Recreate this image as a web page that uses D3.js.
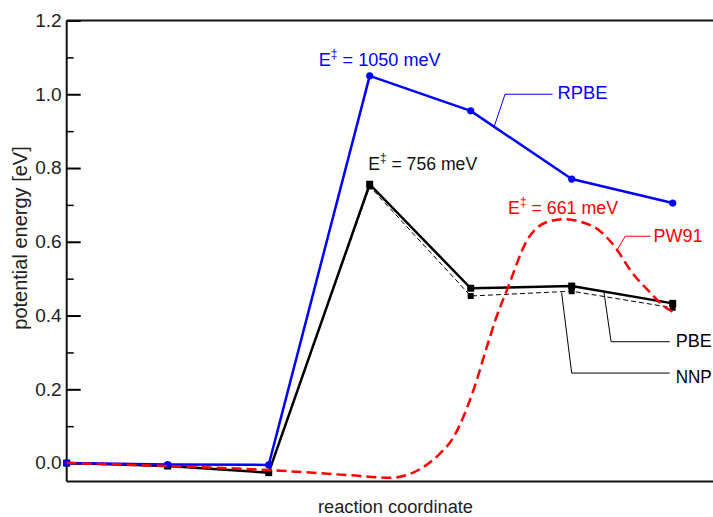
<!DOCTYPE html>
<html>
<head>
<meta charset="utf-8">
<script src="https://cdn.jsdelivr.net/npm/d3@7"></script>
<style>
  html, body { margin: 0; padding: 0; background: #fff; }
  svg { display: block; font-family: "Liberation Sans", Arial, Helvetica, sans-serif; }
</style>
</head>
<body>
<svg id="chart" width="713" height="517"></svg>
<script>
// ---------------- data ----------------
const steps = [0, 1, 2, 3, 4, 5, 6];               // reaction coordinate images
const rpbe  = [0, -0.004, -0.005, 1.05, 0.955, 0.77, 0.705];
const pbe   = [0, -0.008, -0.026, 0.756, 0.474, 0.48, 0.433];
const nnp   = [0, -0.008, -0.026, 0.75, 0.453, 0.466, 0.421];
const pw91X = [0, 1, 2, 2.8, 3.2, 3.5, 3.7, 3.83, 3.9, 4.03, 4.16, 4.26, 4.36, 4.56, 4.76, 4.92, 5.22, 5.45, 5.58, 5.75, 5.94, 6.0];
const pw91Y = [0, -0.008, -0.019, -0.033, -0.04, -0.016, 0.027, 0.07, 0.108, 0.2, 0.315, 0.4, 0.47, 0.605, 0.654, 0.661, 0.64, 0.578, 0.523, 0.47, 0.42, 0.41];
const majorTicks = [0, 0.2, 0.4, 0.6, 0.8, 1.0, 1.2];
const minorTicks = [0.1, 0.3, 0.5, 0.7, 0.9, 1.1];
const seriesNames = ["RPBE", "PW91", "PBE", "NNP"];
const barrierValues = [1050, 756, 661];
const xTitle = "reaction coordinate";
const yTitle = "potential energy [eV]";

// ---------------- setup ----------------
const svg = d3.select("#chart");
const x = d3.scaleLinear().domain([0, 7]).range([66.7, 773.7]);
const y = d3.scaleLinear().domain([-0.05, 1.2]).range([481.5, 20.5]);

const BLUE = "#0000ff", RED = "#ff0000", BLACK = "#000000";
const FS = 18;

// ---------------- axes ----------------
const yAxisMajor = d3.axisLeft(y).tickValues(majorTicks).tickFormat(d3.format(".1f"))
  .tickSizeInner(-14).tickSizeOuter(0).tickPadding(5);
const gMaj = svg.append("g").attr("transform", `translate(${x(0)},0)`).call(yAxisMajor);
gMaj.select(".domain").remove();
gMaj.selectAll(".tick line").attr("stroke", BLACK).attr("stroke-width", 2);
gMaj.selectAll(".tick text")
  .attr("font-size", FS).attr("fill", "#222")
  .attr("font-family", "Liberation Sans, Arial, sans-serif")
  .attr("textLength", 26.5).attr("lengthAdjust", "spacingAndGlyphs");

const yAxisMinor = d3.axisLeft(y).tickValues(minorTicks).tickFormat("")
  .tickSizeInner(-7).tickSizeOuter(0);
const gMin = svg.append("g").attr("transform", `translate(${x(0)},0)`).call(yAxisMinor);
gMin.select(".domain").remove();
gMin.selectAll(".tick line").attr("stroke", BLACK).attr("stroke-width", 1.5);

// frame
const frame = svg.append("g").attr("stroke", "#111").attr("stroke-width", 2).attr("fill", "none");
frame.append("line").attr("x1", x(0)).attr("x2", x(0)).attr("y1", y(1.2)).attr("y2", y(-0.05));
frame.append("line").attr("x1", x(0)).attr("x2", x(7)).attr("y1", y(1.2)).attr("y2", y(1.2));
frame.append("line").attr("x1", x(0)).attr("x2", x(7)).attr("y1", y(-0.05)).attr("y2", y(-0.05));

// axis titles
svg.append("text")
  .attr("x", 395.5).attr("y", 513)
  .attr("text-anchor", "middle").attr("font-size", FS).attr("fill", "#222")
  .attr("textLength", 155).attr("lengthAdjust", "spacingAndGlyphs")
  .text(xTitle);
svg.append("text")
  .attr("transform", `translate(27,238) rotate(-90)`)
  .attr("text-anchor", "middle").attr("font-size", 20).attr("fill", "#222")
  .text(yTitle);

// ---------------- lines ----------------
const line = d3.line().x(d => x(d[0])).y(d => y(d[1]));
const pw91Line = d3.line().x(d => x(d[0])).y(d => y(d[1])).curve(d3.curveMonotoneX);

const nnpPts = steps.map((s, i) => [s, nnp[i]]);
const pbePts = steps.map((s, i) => [s, pbe[i]]);
const rpbePts = steps.map((s, i) => [s, rpbe[i]]);
const pw91Pts = pw91X.map((s, i) => [s, pw91Y[i]]);

// NNP
svg.append("path").attr("d", line(nnpPts)).attr("fill", "none")
  .attr("stroke", BLACK).attr("stroke-width", 1).attr("stroke-dasharray", "5,3");
svg.selectAll(".nnpm").data(nnpPts).enter().append("rect")
  .attr("x", d => x(d[0]) - 3).attr("y", d => y(d[1]) - 3)
  .attr("width", 6).attr("height", 6).attr("fill", BLACK);

// PBE
svg.append("path").attr("d", line(pbePts)).attr("fill", "none")
  .attr("stroke", BLACK).attr("stroke-width", 2.5).attr("stroke-linejoin", "round");
svg.selectAll(".pbem").data(pbePts).enter().append("rect")
  .attr("x", d => x(d[0]) - 3.5).attr("y", d => y(d[1]) - 3.5)
  .attr("width", 7).attr("height", 7).attr("fill", BLACK);

// RPBE
svg.append("path").attr("d", line(rpbePts)).attr("fill", "none")
  .attr("stroke", BLUE).attr("stroke-width", 2.5).attr("stroke-linejoin", "round");
svg.selectAll(".rpbem").data(rpbePts).enter().append("circle")
  .attr("cx", d => x(d[0])).attr("cy", d => y(d[1])).attr("r", 3.6).attr("fill", BLUE);

// PW91
svg.append("path").attr("d", pw91Line(pw91Pts)).attr("fill", "none")
  .attr("stroke", RED).attr("stroke-width", 2.5).attr("stroke-dasharray", "10,5");

// ---------------- annotations ----------------
function barrierLabel(value, px, py, color, width) {
  const t = svg.append("text").attr("x", px).attr("y", py)
    .attr("font-size", FS).attr("fill", color)
    .attr("textLength", width).attr("lengthAdjust", "spacingAndGlyphs");
  t.append("tspan").text("E");
  t.append("tspan").attr("font-size", 12).attr("dy", -8).text("\u2021");
  t.append("tspan").attr("dy", 8).text(` = ${value} meV`);
}
barrierLabel(barrierValues[0], x(3) - 51, y(1.05) - 9.5, BLUE, 122);
barrierLabel(barrierValues[1], x(3) - 1.5, y(0.756) - 14.5, "#111", 109);
barrierLabel(barrierValues[2], x(4.37), y(0.68) + 1.5, RED, 110);

function leader(pts, color, label, lx, ly, w) {
  svg.append("path").attr("d", d3.line()(pts)).attr("fill", "none")
    .attr("stroke", color).attr("stroke-width", 1);
  svg.append("text").attr("x", lx).attr("y", ly)
    .attr("font-size", FS).attr("fill", color)
    .attr("textLength", w).attr("lengthAdjust", "spacingAndGlyphs")
    .text(label);
}
// RPBE leader (anchor on the RPBE segment between steps 4 and 5)
leader([[x(4.23), y(0.91)], [x(4.34), y(1.0)], [x(4.81), y(1.0)]], BLUE, seriesNames[0], x(4.86), y(0.988), 50);
// PW91 leader
leader([[x(5.45), y(0.578)], [x(5.53), y(0.615)], [x(5.78), y(0.615)]], RED, seriesNames[1], x(5.81), y(0.6), 49);
// PBE leader
leader([[x(5.32), y(0.462)], [x(5.39), y(0.329)], [x(5.97), y(0.329)]], BLACK, seriesNames[2], x(6.03), y(0.315), 36);
// NNP leader
leader([[x(4.9), y(0.462)], [x(5.0), y(0.244)], [x(5.97), y(0.244)]], BLACK, seriesNames[3], x(6.03), y(0.216), 36);
</script>
</body>
</html>
